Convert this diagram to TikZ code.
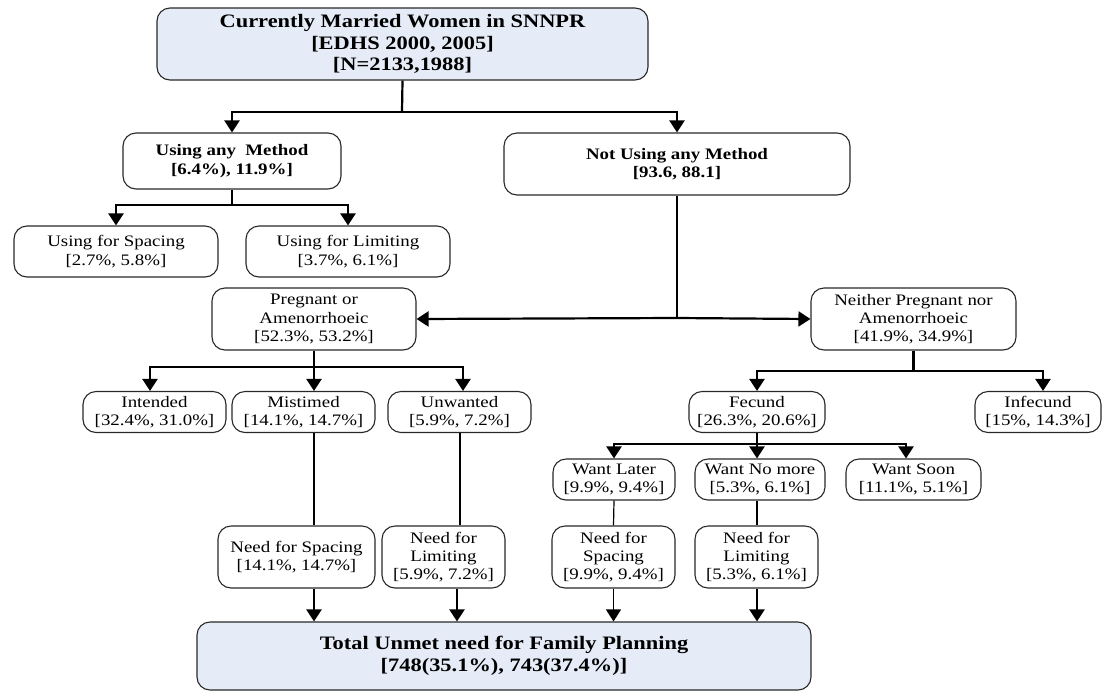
\documentclass[tikz,border=0pt]{standalone}
\usepackage{fontspec}
\setmainfont{Liberation Serif}[FakeStretch=1.18]
\usetikzlibrary{arrows.meta}
\definecolor{boxblue}{RGB}{230,236,247}
\definecolor{bordergray}{RGB}{40,40,40}
\tikzset{
  box/.style={draw=bordergray, line width=1.1pt, rounded corners=13pt, align=center,
    inner sep=0pt, font=\fontsize{16}{18.3}\selectfont},
  boldbox/.style={box, font=\fontsize{16}{18.3}\selectfont\bfseries},
  titlebox/.style={box, fill=boxblue, font=\fontsize{19}{21.7}\selectfont\bfseries},
  conn/.style={line width=2.2pt, black},
  thinconn/.style={line width=1.2pt, black},
  arr/.style={conn, -{Triangle[length=12pt,width=15pt]}},
  thinarr/.style={thinconn, -{Triangle[length=12pt,width=15pt]}}
}
\begin{document}
\begin{tikzpicture}[x=1pt,y=-1pt]
\useasboundingbox (0,0) rectangle (1102,694);
% nodes
\node[titlebox, minimum width=491pt, minimum height=72pt] (top) at (402.5,44)
  {Currently Married Women in SNNPR\\{}[EDHS 2000, 2005]\\{}[N=2133,1988]};
\node[boldbox, minimum width=218pt, minimum height=56pt] (using) at (232,161)
  {Using any\ \ Method\\{}[6.4\%), 11.9\%]};
\node[boldbox, minimum width=346pt, minimum height=62pt] (notusing) at (677,164)
  {Not Using any Method\\{}[93.6, 88.1]};
\node[box, minimum width=204pt, minimum height=51pt] (spacing) at (116,251.5)
  {Using for Spacing\\{}[2.7\%, 5.8\%]};
\node[box, minimum width=204pt, minimum height=51pt] (limiting) at (348,251.5)
  {Using for Limiting\\{}[3.7\%, 6.1\%]};
\node[box, minimum width=204pt, minimum height=62pt] (preg) at (314,319)
  {Pregnant or\\Amenorrhoeic\\{}[52.3\%, 53.2\%]};
\node[box, minimum width=205pt, minimum height=62pt] (neither) at (913.5,319)
  {Neither Pregnant nor\\Amenorrhoeic\\{}[41.9\%, 34.9\%]};
\node[box, minimum width=143pt, minimum height=41pt] (intended) at (154.5,412)
  {Intended\\{}[32.4\%, 31.0\%]};
\node[box, minimum width=143pt, minimum height=41pt] (mistimed) at (303.5,412)
  {Mistimed\\{}[14.1\%, 14.7\%]};
\node[box, minimum width=143pt, minimum height=41pt] (unwanted) at (459.5,412)
  {Unwanted\\{}[5.9\%, 7.2\%]};
\node[box, minimum width=136pt, minimum height=41pt] (fecund) at (757,412)
  {Fecund\\{}[26.3\%, 20.6\%]};
\node[box, minimum width=126pt, minimum height=41pt] (infecund) at (1038,412)
  {Infecund\\{}[15\%, 14.3\%]};
\node[box, minimum width=122pt, minimum height=41pt] (wantlater) at (614,479.5)
  {Want Later\\{}[9.9\%, 9.4\%]};
\node[box, minimum width=130pt, minimum height=41pt] (wantnomore) at (760,479.5)
  {Want No more\\{}[5.3\%, 6.1\%]};
\node[box, minimum width=135pt, minimum height=41pt] (wantsoon) at (913.5,479.5)
  {Want Soon\\{}[11.1\%, 5.1\%]};
\node[box, minimum width=157pt, minimum height=62pt] (needsp1) at (296.5,557)
  {Need for Spacing\\{}[14.1\%, 14.7\%]};
\node[box, minimum width=123pt, minimum height=62pt] (needlim1) at (443.5,557)
  {Need for\\Limiting\\{}[5.9\%, 7.2\%]};
\node[box, minimum width=123pt, minimum height=62pt] (needsp2) at (613.5,557)
  {Need for\\Spacing\\{}[9.9\%, 9.4\%]};
\node[box, minimum width=123pt, minimum height=62pt] (needlim2) at (756.5,557)
  {Need for\\Limiting\\{}[5.3\%, 6.1\%]};
\node[titlebox, minimum width=614pt, minimum height=68pt] (total) at (504,656)
  {Total Unmet need for Family Planning\\{}[748(35.1\%), 743(37.4\%)]};
% branch points
\coordinate (b1) at (402,112);
\coordinate (b2) at (232,205);
\coordinate (b3) at (677,318);
\coordinate (b4) at (314,367);
\coordinate (b5) at (913.5,371);
\coordinate (b6) at (757,444);
\coordinate (xi) at (150,0);
\coordinate (xu) at (463,0);
\coordinate (xws) at (906,0);
\coordinate (xinf) at (1043,0);
\coordinate (xl1) at (460,0);
\coordinate (xl1b) at (457,0);
% connectors
\draw[conn] (top.south) -- (b1);
\draw[arr] (b1) -| (using.north);
\draw[arr] (b1) -| (notusing.north);
\draw[conn] (using.south) -- (b2);
\draw[arr] (b2) -| (spacing.north);
\draw[arr] (b2) -| (limiting.north);
\draw[conn] (notusing.south) -- (b3);
\draw[arr] (b3) -- (preg.east);
\draw[arr] (b3) -- (neither.west);
\draw[conn] (preg.south) -- (b4);
\draw[arr] (b4) -| (xi |- intended.north);
\draw[arr] (b4) -- (b4 |- mistimed.north);
\draw[arr] (b4) -| (xu |- unwanted.north);
\draw[conn] (neither.south) -- (b5);
\draw[arr] (b5) -| (fecund.north);
\draw[arr] (b5) -| (xinf |- infecund.north);
\draw[conn] (fecund.south) -- (b6);
\draw[arr] (b6) -| (wantlater.north);
\draw[arr] (b6) -- (b6 |- wantnomore.north);
\draw[arr] (b6) -| (xws |- wantsoon.north);
\draw[conn] (b4 |- mistimed.south) -- (b4 |- needsp1.north);
\draw[conn] (xl1 |- unwanted.south) -- (xl1 |- needlim1.north);
\draw[thinconn] (wantlater.south) -- (needsp2.north);
\draw[conn] (needlim2.north -| b6) -- (b6 |- wantnomore.south);
\draw[arr] (b4 |- needsp1.south) -- (b4 |- total.north);
\draw[arr] (xl1b |- needlim1.south) -- (xl1b |- total.north);
\draw[thinarr] (needsp2.south) -- (needsp2.south |- total.north);
\draw[arr] (needlim2.south -| b6) -- (b6 |- total.north);
\end{tikzpicture}
\end{document}
